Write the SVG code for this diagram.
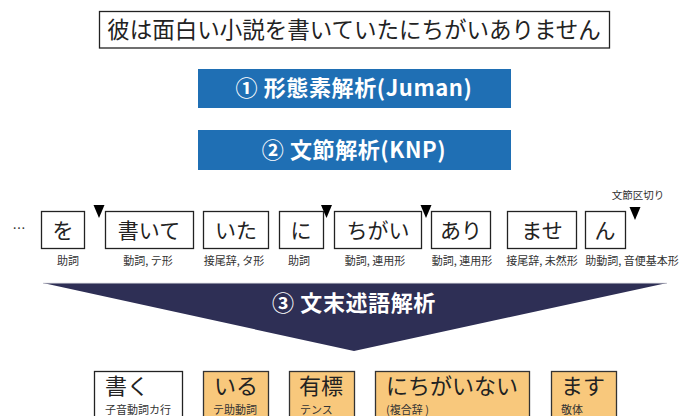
<svg xmlns="http://www.w3.org/2000/svg" width="684" height="416" viewBox="0 0 684 416">
<style>
text{font-family:"Noto Sans CJK JP","Noto Sans",sans-serif;}
.box{fill:#fff;stroke:#222;stroke-width:1.3;}
.obox{fill:#f8c87c;stroke:#333;stroke-width:1.3;}
.blue{fill:#1f6fb4;}
.bt{fill:#fff;font-weight:bold;font-size:22px;text-anchor:middle;letter-spacing:0.6px;}
.m{font-size:21px;fill:#222;text-anchor:middle;}
.s{font-size:11px;fill:#333;text-anchor:middle;}
.bm{font-size:22px;fill:#222;}
.bs{font-size:11px;fill:#333;}
.tri{fill:#000;}
</style>
<g id="sentence">
<rect class="box" x="99.5" y="11.5" width="510" height="36.5"/>
<text x="354" y="38" style="font-size:22.5px;fill:#222;text-anchor:middle">彼は面白い小説を書いていたにちがいありません</text>
</g>
<g id="step1">
<rect class="blue" x="198" y="69" width="313" height="39"/>
<text class="bt" x="354" y="96">① 形態素解析(Juman)</text>
</g>
<g id="step2">
<rect class="blue" x="198" y="130" width="313" height="40"/>
<text class="bt" x="354" y="157.5">② 文節解析(KNP)</text>
</g>
<g id="ellipsis"><text x="19" y="233" style="font-size:13px;fill:#333;text-anchor:middle">…</text></g>
<g id="w-wo"><rect class="box" x="41.5" y="211.5" width="43" height="37"/><text class="m" x="63" y="238">を</text><text class="s" x="68" y="265">助詞</text></g>
<g id="w-kaite"><rect class="box" x="105.5" y="211.5" width="88" height="37"/><text class="m" x="149" y="238">書いて</text><text class="s" x="148" y="265">動詞, テ形</text></g>
<g id="w-ita"><rect class="box" x="203.5" y="211.5" width="65" height="37"/><text class="m" x="236" y="238">いた</text><text class="s" x="234" y="265">接尾辞, タ形</text></g>
<g id="w-ni"><rect class="box" x="279.5" y="211.5" width="44" height="37"/><text class="m" x="301" y="238">に</text><text class="s" x="299" y="265">助詞</text></g>
<g id="w-chigai"><rect class="box" x="334.5" y="211.5" width="87" height="37"/><text class="m" x="378" y="238">ちがい</text><text class="s" x="375" y="265">動詞, 連用形</text></g>
<g id="w-ari"><rect class="box" x="431.5" y="211.5" width="59" height="37"/><text class="m" x="461" y="238">あり</text><text class="s" x="462" y="265">動詞, 連用形</text></g>
<g id="w-mase"><rect class="box" x="507.5" y="211.5" width="69" height="37"/><text class="m" x="542" y="238">ませ</text><text class="s" x="542" y="265">接尾辞, 未然形</text></g>
<g id="w-n"><rect class="box" x="585.5" y="211.5" width="40" height="37"/><text class="m" x="605" y="238">ん</text><text class="s" x="632" y="265">助動詞, 音便基本形</text></g>
<g id="boundaries">
<polygon class="tri" points="93.5,205 104.5,205 99,218"/>
<polygon class="tri" points="321,205 332,205 326.5,218"/>
<polygon class="tri" points="420.5,205 431.5,205 426,218"/>
<polygon class="tri" points="629.5,207 640.5,207 635,220"/>
<text x="638" y="199" style="font-size:10.5px;fill:#333;text-anchor:middle">文節区切り</text>
</g>
<g id="step3">
<polygon points="43,283 667,283 354,351" fill="#2e2f55"/>
<line x1="43" y1="283.3" x2="667" y2="283.3" stroke="#b8b8c4" stroke-width="0.8"/>
<text class="bt" x="354" y="311">③ 文末述語解析</text>
</g>
<g id="r-kaku"><rect class="box" x="94.5" y="371.5" width="88" height="50"/><text class="bm" x="105" y="393.5">書く</text><text class="bs" x="105" y="413.5">子音動詞カ行</text></g>
<g id="r-iru"><rect class="obox" x="203.5" y="371.5" width="65" height="50"/><text class="bm" x="214" y="393.5">いる</text><text class="bs" x="213" y="413.5">テ助動詞</text></g>
<g id="r-yuhyo"><rect class="obox" x="289.5" y="371.5" width="65" height="50"/><text class="bm" x="299" y="393.5">有標</text><text class="bs" x="300" y="413.5">テンス</text></g>
<g id="r-nichigainai"><rect class="obox" x="375.5" y="371.5" width="154" height="50"/><text class="bm" x="386" y="393.5">にちがいない</text><text class="bs" x="386" y="413.5">(複合辞 )</text></g>
<g id="r-masu"><rect class="obox" x="551.5" y="371.5" width="65" height="50"/><text class="bm" x="561" y="393.5">ます</text><text class="bs" x="561" y="413.5">敬体</text></g>
</svg>
